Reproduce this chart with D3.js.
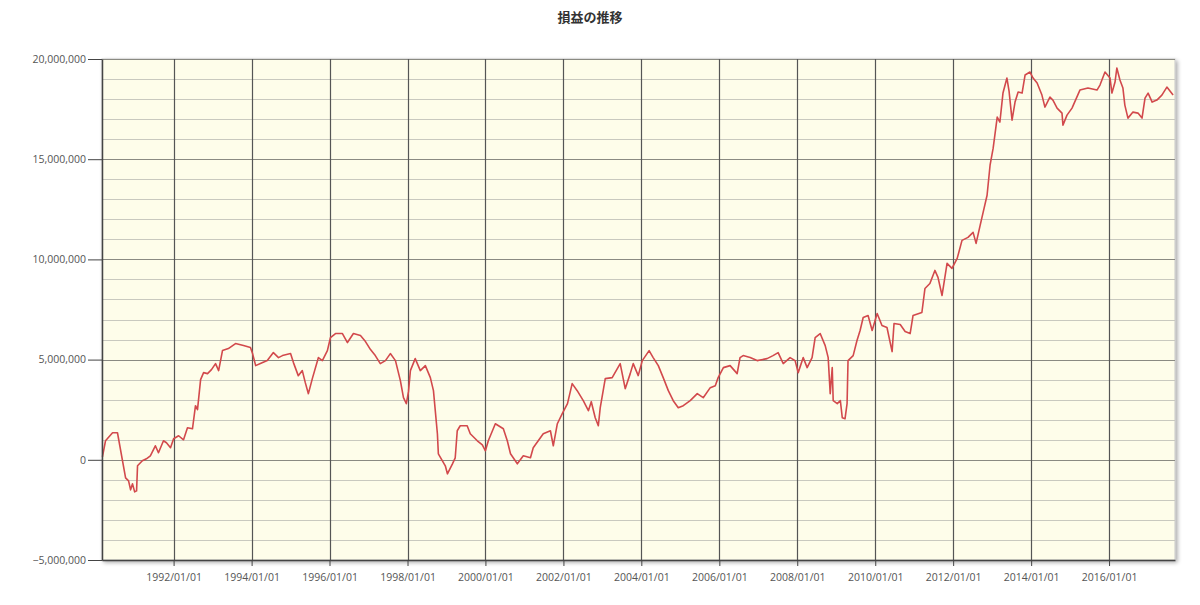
<!DOCTYPE html>
<html>
<head>
<meta charset="utf-8">
<script src="https://cdn.jsdelivr.net/npm/d3@7"></script>
<style>
body { margin: 0; background: #fff; }
svg text { font-family: "Open Sans", "Noto Sans", sans-serif; }
</style>
</head>
<body>
<div id="chart"></div>
<script>
// data (values in yen)
var dates = [
  "1990-03-05","1990-04-03","1990-06-08","1990-07-24","1990-10-08","1990-11-05","1990-11-24","1990-12-12",
  "1991-01-01","1991-01-19","1991-01-28","1991-03-14","1991-04-21","1991-05-28","1991-07-14","1991-08-12",
  "1991-09-28","1991-10-26","1991-12-03","1992-01-01","1992-02-17","1992-04-03","1992-05-10","1992-06-26",
  "1992-07-24","1992-08-12","1992-09-10","1992-10-08","1992-11-14","1992-12-21","1993-01-28","1993-02-26",
  "1993-04-03","1993-05-28","1993-08-03","1993-10-17","1993-12-21","1994-01-10","1994-02-08","1994-03-24",
  "1994-05-28","1994-07-24","1994-09-10","1994-10-17","1995-01-01","1995-01-28","1995-03-14","1995-04-21",
  "1995-05-19","1995-06-17","1995-07-24","1995-09-19","1995-10-26","1995-12-12","1996-01-10","1996-02-26",
  "1996-05-01","1996-06-17","1996-08-12","1996-10-17","1996-12-03","1997-01-19","1997-03-05","1997-04-21",
  "1997-06-08","1997-07-24","1997-09-10","1997-10-26","1997-11-24","1997-12-21","1998-01-10","1998-01-28",
  "1998-03-14","1998-05-01","1998-06-17","1998-08-03","1998-09-01","1998-10-08","1998-10-17","1998-11-24",
  "1998-12-21","1999-01-10","1999-02-26","1999-03-24","1999-04-12","1999-05-10","1999-07-14","1999-08-12",
  "1999-10-17","1999-12-03","2000-01-01","2000-01-28","2000-04-03","2000-06-17","2000-07-24","2000-08-23",
  "2000-10-26","2000-12-21","2001-02-26","2001-03-24","2001-06-26","2001-09-01","2001-09-28","2001-11-05",
  "2001-12-21","2002-02-08","2002-03-24","2002-05-10","2002-07-06","2002-08-23","2002-09-19","2002-10-26",
  "2002-11-24","2002-12-12","2003-01-28","2003-04-03","2003-06-17","2003-08-03","2003-09-19","2003-10-17",
  "2003-12-03","2004-01-10","2004-03-14","2004-04-21","2004-06-08","2004-07-24","2004-09-10","2004-10-26",
  "2004-12-12","2005-01-28","2005-04-03","2005-06-08","2005-08-03","2005-10-08","2005-11-24","2005-12-21",
  "2006-02-08","2006-04-12","2006-06-17","2006-07-14","2006-08-12","2006-10-17","2006-12-21","2007-03-24",
  "2007-05-19","2007-07-06","2007-08-23","2007-10-26","2007-12-12","2008-01-10","2008-02-26","2008-04-03",
  "2008-05-19","2008-06-17","2008-08-03","2008-09-19","2008-10-17","2008-11-05","2008-11-24","2008-12-03",
  "2009-01-10","2009-02-08","2009-02-26","2009-03-24","2009-04-12","2009-04-21","2009-06-08","2009-07-14",
  "2009-08-12","2009-09-10","2009-10-26","2009-12-03","2010-01-19","2010-03-05","2010-04-21","2010-06-08",
  "2010-06-26","2010-08-23","2010-10-08","2010-11-24","2010-12-21","2011-03-14","2011-04-12","2011-05-28",
  "2011-07-14","2011-08-12","2011-09-19","2011-11-05","2011-12-21","2012-02-08","2012-03-24","2012-05-19",
  "2012-07-06","2012-08-03","2012-09-10","2012-10-08","2012-11-14","2012-12-12","2013-01-10","2013-02-17",
  "2013-03-14","2013-04-12","2013-05-19","2013-06-08","2013-07-06","2013-08-03","2013-09-01","2013-10-08",
  "2013-11-05","2013-12-21","2014-01-19","2014-02-26","2014-04-12","2014-05-10","2014-06-26","2014-07-24",
  "2014-09-01","2014-10-17","2014-10-26","2014-12-03","2015-01-19","2015-04-03","2015-06-17","2015-09-10",
  "2015-10-08","2015-11-24","2016-01-10","2016-01-28","2016-02-26","2016-03-14","2016-04-12","2016-05-10",
  "2016-05-28","2016-06-26","2016-08-12","2016-09-28","2016-11-05","2016-12-03","2017-01-01","2017-02-08",
  "2017-03-24","2017-05-10","2017-06-26","2017-08-23"
];

// profit, millions of yen
var profit = [
  0.15, 0.95, 1.35, 1.35, -0.9, -1.05, -1.5, -1.2,
  -1.6, -1.55, -0.3, -0.05, 0.05, 0.2, 0.7, 0.35,
  0.95, 0.85, 0.6, 1.05, 1.2, 1.0, 1.6, 1.55,
  2.7, 2.5, 4.0, 4.35, 4.3, 4.5, 4.8, 4.45,
  5.45, 5.55, 5.8, 5.7, 5.6, 5.3, 4.7, 4.8,
  4.95, 5.35, 5.1, 5.2, 5.3, 4.85, 4.2, 4.45,
  3.85, 3.3, 4.05, 5.1, 4.95, 5.45, 6.1, 6.3,
  6.3, 5.85, 6.3, 6.2, 5.9, 5.5, 5.2, 4.8,
  4.95, 5.3, 4.95, 3.95, 3.1, 2.8, 3.4, 4.45,
  5.05, 4.45, 4.7, 4.1, 3.45, 1.3, 0.3, -0.05,
  -0.3, -0.7, -0.2, 0.1, 1.45, 1.7, 1.7, 1.3,
  0.95, 0.75, 0.45, 0.95, 1.8, 1.55, 0.95, 0.3,
  -0.2, 0.2, 0.1, 0.6, 1.3, 1.45, 0.7, 1.8,
  2.3, 2.8, 3.8, 3.45, 2.95, 2.45, 2.9, 2.1,
  1.7, 2.6, 4.05, 4.1, 4.8, 3.55, 4.3, 4.8,
  4.2, 4.95, 5.45, 5.1, 4.7, 4.1, 3.45, 2.95,
  2.6, 2.7, 2.95, 3.3, 3.1, 3.6, 3.7, 4.1,
  4.6, 4.7, 4.3, 5.1, 5.2, 5.1, 4.95, 5.05,
  5.2, 5.35, 4.8, 5.1, 4.95, 4.35, 5.1, 4.6,
  5.1, 6.1, 6.3, 5.7, 5.1, 3.3, 4.6, 2.95,
  2.8, 2.95, 2.1, 2.05, 2.8, 4.95, 5.2, 5.95,
  6.45, 7.1, 7.2, 6.45, 7.3, 6.7, 6.6, 5.4,
  6.8, 6.75, 6.4, 6.3, 7.2, 7.35, 8.55, 8.8,
  9.45, 9.1, 8.2, 9.8, 9.55, 10.05, 10.95, 11.1,
  11.35, 10.8, 11.7, 12.35, 13.2, 14.7, 15.55, 17.1,
  16.85, 18.3, 19.05, 18.4, 16.95, 17.85, 18.35, 18.3,
  19.2, 19.35, 19.05, 18.8, 18.2, 17.6, 18.1, 17.95,
  17.55, 17.3, 16.7, 17.2, 17.55, 18.45, 18.55, 18.45,
  18.7, 19.35, 19.05, 18.3, 18.85, 19.55, 18.95, 18.55,
  17.7, 17.05, 17.35, 17.3, 17.05, 18.05, 18.3, 17.85,
  17.95, 18.2, 18.6, 18.2
];

var yTicks = [-5000000, 0, 5000000, 10000000, 15000000, 20000000];
var xTickYears = [1992, 1994, 1996, 1998, 2000, 2002, 2004, 2006, 2008, 2010, 2012, 2014, 2016];
var title = "損益の推移";

var parseDate = d3.timeParse("%Y-%m-%d");
var data = dates.map(function(d, i) { return { date: parseDate(d), value: profit[i] * 1000000 }; });

var margin = { top: 59, right: 25, bottom: 45, left: 102 },
    width = 1200 - margin.left - margin.right,
    height = 605 - margin.top - margin.bottom;

var svg = d3.select("#chart").append("svg")
    .attr("width", 1200)
    .attr("height", 605);

svg.append("text")
    .attr("x", 590)
    .attr("y", 22)
    .attr("text-anchor", "middle")
    .style("font-family", "'Noto Sans CJK JP', sans-serif")
    .style("font-weight", "bold")
    .style("font-size", "13px")
    .attr("fill", "#333")
    .text(title);

var defs = svg.append("defs");
var filter = defs.append("filter").attr("id", "shadow").attr("x", "-5%").attr("y", "-5%").attr("width", "110%").attr("height", "110%");
filter.append("feGaussianBlur").attr("in", "SourceAlpha").attr("stdDeviation", 2);
filter.append("feOffset").attr("dx", 2).attr("dy", 2).attr("result", "blur");
filter.append("feComponentTransfer").append("feFuncA").attr("type", "linear").attr("slope", 0.35);
var merge = filter.append("feMerge");
merge.append("feMergeNode");
merge.append("feMergeNode").attr("in", "SourceGraphic");

var g = svg.append("g")
    .attr("transform", "translate(" + margin.left + "," + margin.top + ")");

var x = d3.scaleTime()
    .domain([parseDate("1990-03-01"), parseDate("2017-09-10")])
    .range([0, width]);

var y = d3.scaleLinear()
    .domain([-5000000, 20000000])
    .range([height, 0]);

g.append("rect")
    .attr("width", width)
    .attr("height", height)
    .attr("fill", "#fefdea")
    .attr("stroke", "#c8c8c8")
    .attr("filter", "url(#shadow)");

// minor horizontal grid every 1,000,000
g.append("g")
    .selectAll("line")
    .data(d3.range(-5000000, 20000001, 1000000))
    .enter().append("line")
        .attr("x1", 0)
        .attr("x2", width)
        .attr("y1", function(d) { return Math.round(y(d)) + 0.5; })
        .attr("y2", function(d) { return Math.round(y(d)) + 0.5; })
        .attr("stroke", function(d) { return d % 5000000 === 0 ? "#8a8a82" : "#c9c9bf"; })
        .attr("stroke-width", 1);

var xTicks = xTickYears.map(function(yr) { return new Date(yr, 0, 1); });

// vertical grid
g.append("g")
    .selectAll("line")
    .data(xTicks)
    .enter().append("line")
        .attr("x1", function(d) { return Math.round(x(d)) + 0.5; })
        .attr("x2", function(d) { return Math.round(x(d)) + 0.5; })
        .attr("y1", 0)
        .attr("y2", height)
        .attr("stroke", "#555")
        .attr("stroke-width", 1.2);

var line = d3.line()
    .x(function(d) { return x(d.date); })
    .y(function(d) { return y(d.value); });

g.append("path")
    .datum(data)
    .attr("fill", "none")
    .attr("stroke", "#d2494c")
    .attr("stroke-width", 1.6)
    .attr("stroke-linejoin", "round")
    .attr("d", line);

var xAxis = g.append("g")
    .attr("transform", "translate(0," + height + ")")
    .call(d3.axisBottom(x).tickValues(xTicks).tickFormat(d3.timeFormat("%Y/%m/%d")).tickSize(6).tickSizeOuter(0));

var yAxis = g.append("g")
    .call(d3.axisLeft(y).tickValues(yTicks).tickFormat(d3.format(",")).tickSize(14).tickSizeOuter(0));

[xAxis, yAxis].forEach(function(ax) {
    ax.select(".domain").attr("stroke", "#444").attr("stroke-width", 1.5);
    ax.selectAll(".tick line").attr("stroke", "#444");
    ax.selectAll(".tick text")
        .attr("fill", "#555")
        .style("font-size", "10.5px")
        .style("font-family", "'Open Sans', sans-serif");
});
xAxis.selectAll(".tick text").attr("dy", "1.1em");
yAxis.selectAll(".tick text").attr("x", -16);
</script>
</body>
</html>
